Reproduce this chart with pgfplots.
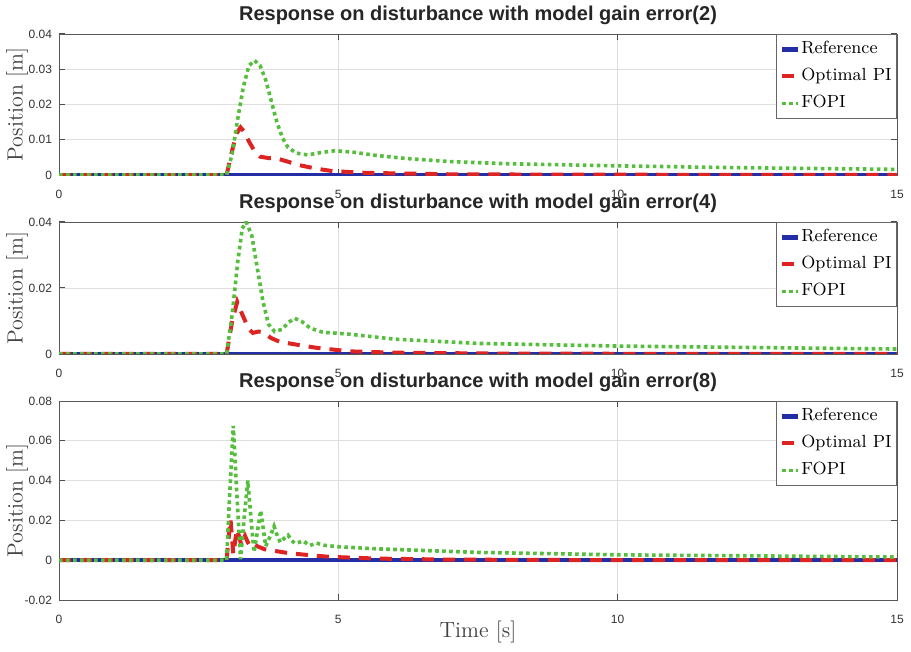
\documentclass[border=0pt]{standalone}
\usepackage{fontspec}
\usepackage{pgfplots}
\pgfplotsset{compat=1.18}
\newfontfamily\helv{Liberation Sans}
\definecolor{refblue}{RGB}{35,45,165}
\definecolor{pired}{RGB}{222,35,35}
\definecolor{fopigreen}{RGB}{85,190,60}
\pgfplotsset{legend image code/.code={\draw[#1] (0pt,0pt) -- (8pt,0pt);}}
\pgfplotsset{myax/.style={
  scale only axis, width=419pt,
  xmin=0, xmax=15, xtick={0,5,10,15},
  grid=major, major grid style={black!13, line width=0.4pt},
  axis line style={black!65}, tick style={black!70, line width=0.5pt},
  major tick length=3pt,
  ticklabel style={font=\helv\fontsize{6}{7}\selectfont, text=black!80},
  /pgf/number format/assume math mode=true,
  scaled y ticks=false,
  yticklabel style={/pgf/number format/fixed, /pgf/number format/precision=2},
  xticklabel style={yshift=-4pt},
  title style={font=\helv\bfseries\fontsize{10}{12}\selectfont, text=black!85, yshift=-5pt},
  ylabel={Position [m]},
  ylabel style={at={(axis description cs:-0.05,0.5)}, anchor=center, font=\fontsize{11}{13}\selectfont, text=black!75},
  legend style={at={(1,1)}, anchor=north east, draw=black!60, fill=white,
    font=\fontsize{8.8}{11}\selectfont, inner sep=2pt, row sep=2.5pt,
    nodes={inner sep=0.5pt, text height=7pt, text depth=3pt},
    /tikz/every even column/.append style={column sep=0pt}},
  legend cell align=left,
}}
\begin{document}
\begin{tikzpicture}
\useasboundingbox (-29.5pt,0pt) rectangle (426pt,-326pt);
% ---------------- panel 1
\begin{axis}[myax, at={(0pt,-17pt)}, anchor=north west, height=70.5pt,
  ymin=0, ymax=0.04, ytick={0,0.01,0.02,0.03,0.04},
  title={Response on disturbance with model gain error(2)}]
\addplot[refblue, line width=2.2pt] coordinates {(0,0) (15,0)};
\addplot[pired, line width=2pt, dash pattern=on 6pt off 4.5pt] coordinates {
(0,0) (3.0,0) (3.1,0.007) (3.18,0.0118) (3.25,0.0135) (3.32,0.0122) (3.4,0.0095) (3.5,0.0068) (3.6,0.0052) (3.75,0.0048) (3.9,0.0047) (4.05,0.004) (4.3,0.0028) (4.6,0.0018) (4.9,0.0011) (5.5,0.0006) (7,0.0002) (9,0.0001) (15,0)};
\addplot[fopigreen, line width=1.8pt, dash pattern=on 1.8pt off 1.7pt] coordinates {
(0,0) (3.0,0) (3.1,0.006) (3.2,0.016) (3.3,0.025) (3.4,0.031) (3.5,0.0325) (3.6,0.031) (3.7,0.027) (3.8,0.021) (3.9,0.015) (4.0,0.0105) (4.1,0.0078) (4.25,0.0062) (4.45,0.0057) (4.7,0.0064) (4.95,0.0069) (5.3,0.0064) (5.7,0.0055) (6.2,0.0047) (7,0.0038) (8,0.0032) (10,0.0026) (12,0.0021) (15,0.0016)};
\legend{Reference, Optimal PI, FOPI}
\end{axis}
% ---------------- panel 2
\begin{axis}[myax, at={(0pt,-111pt)}, anchor=north west, height=66pt,
  ymin=0, ymax=0.04, ytick={0,0.02,0.04},
  title={Response on disturbance with model gain error(4)}]
\addplot[refblue, line width=2.2pt] coordinates {(0,0) (15,0)};
\addplot[pired, line width=2pt, dash pattern=on 6pt off 4.5pt] coordinates {
(0,0) (3.0,0) (3.1,0.01) (3.19,0.0158) (3.28,0.012) (3.4,0.0075) (3.47,0.0064) (3.57,0.0068) (3.65,0.0066) (3.8,0.0048) (3.95,0.0037) (4.3,0.0027) (4.6,0.0019) (5.2,0.0008) (6,0.0004) (8,0.0001) (15,0)};
\addplot[fopigreen, line width=1.8pt, dash pattern=on 1.8pt off 1.7pt] coordinates {
(0,0) (3.0,0) (3.1,0.012) (3.2,0.028) (3.28,0.038) (3.35,0.040) (3.45,0.036) (3.55,0.026) (3.65,0.016) (3.75,0.009) (3.86,0.0068) (4.0,0.0075) (4.1,0.0095) (4.22,0.0108) (4.35,0.0098) (4.5,0.0078) (4.72,0.0066) (5.2,0.006) (6,0.0045) (7.5,0.0032) (10,0.0024) (15,0.0015)};
\legend{Reference, Optimal PI, FOPI}
\end{axis}
% ---------------- panel 3
\begin{axis}[myax, at={(0pt,-200.5pt)}, anchor=north west, height=99.5pt,
  ymin=-0.02, ymax=0.08, ytick={-0.02,0,0.02,0.04,0.06,0.08},
  title={Response on disturbance with model gain error(8)},
  xlabel={Time [s]},
  xlabel style={at={(axis description cs:0.5,0)}, anchor=center, yshift=-16pt, font=\fontsize{11}{13}\selectfont, text=black!75}]
\addplot[refblue, line width=2.2pt] coordinates {(0,0) (15,0)};
\addplot[pired, line width=2pt, dash pattern=on 6pt off 4.5pt] coordinates {
(0,0) (3.0,0) (3.04,0.012) (3.07,0.0206) (3.1,0.01) (3.12,0.003) (3.16,0.011) (3.19,0.0156) (3.23,0.011) (3.27,0.0072) (3.3,0.01) (3.33,0.0122) (3.38,0.009) (3.42,0.0072) (3.48,0.0085) (3.55,0.007) (3.68,0.0055) (3.9,0.0045) (4.12,0.0035) (4.5,0.0025) (4.84,0.0017) (5.7,0.0008) (7,0.0003) (9,0.0001) (15,0)};
\addplot[fopigreen, line width=1.8pt, dash pattern=on 1.8pt off 1.7pt] coordinates {
(0,0) (3.0,0) (3.05,0.03) (3.12,0.0675) (3.18,0.035) (3.25,0.0005) (3.31,0.02) (3.38,0.040) (3.44,0.02) (3.49,0.004) (3.55,0.014) (3.61,0.025) (3.66,0.015) (3.70,0.007) (3.78,0.012) (3.85,0.017) (3.91,0.012) (3.96,0.009) (4.03,0.011) (4.10,0.0126) (4.16,0.010) (4.22,0.0085) (4.3,0.009) (4.37,0.0097) (4.43,0.0085) (4.49,0.0074) (4.55,0.008) (4.61,0.0086) (4.75,0.0075) (4.98,0.0068) (5.7,0.0057) (7.5,0.0039) (10,0.0027) (15,0.0016)};
\legend{Reference, Optimal PI, FOPI}
\end{axis}
\end{tikzpicture}
\end{document}
